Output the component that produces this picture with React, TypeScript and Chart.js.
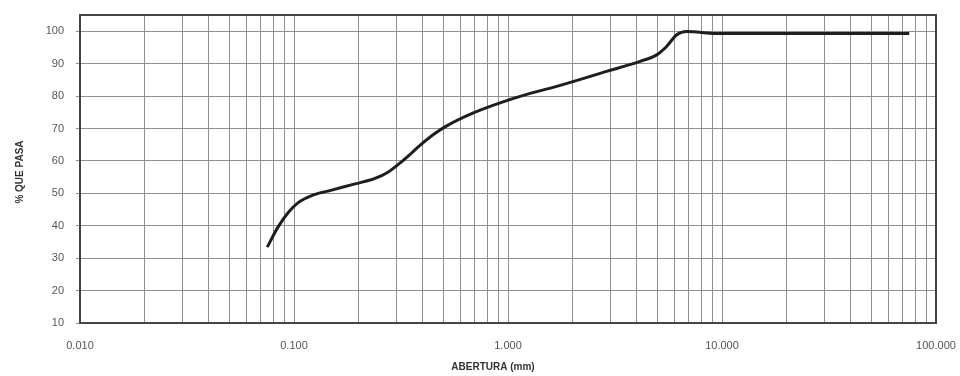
import React, { useEffect, useRef } from 'react';
import { Chart, registerables } from 'chart.js';
Chart.register(...registerables);

// Curve: aperture (mm) vs % passing
const aperturaMm = [0.075, 0.084, 0.094, 0.105, 0.121, 0.15, 0.193, 0.239, 0.276, 0.319, 0.355, 0.388, 0.45, 0.517, 0.689, 0.918, 1.18, 1.69, 2.89, 4.14, 4.95, 5.51, 6.14, 6.84, 9.45, 20, 40, 75];
const pctPasa = [33.4, 39.5, 44.1, 47.2, 49.3, 51.0, 52.9, 54.6, 56.6, 59.8, 62.5, 64.8, 68.2, 70.8, 74.8, 77.9, 80.2, 83.0, 87.6, 90.7, 92.7, 95.3, 98.9, 99.9, 99.3, 99.3, 99.3, 99.3];

const decades = [0.01, 0.1, 1, 10];
const lastDecade = 100;
const yTicks = [10, 20, 30, 40, 50, 60, 70, 80, 90, 100];
const xTitle = 'ABERTURA (mm)';
const yTitle = '% QUE PASA';

const FONT = "'Liberation Sans Narrow', 'Liberation Sans', Arial, sans-serif";

const frameAndTitles = {
  id: 'frameAndTitles',
  afterDraw(chart: any) {
    const { ctx, chartArea } = chart;
    ctx.save();
    ctx.strokeStyle = '#444';
    ctx.lineWidth = 2;
    ctx.strokeRect(chartArea.left, chartArea.top, chartArea.right - chartArea.left, chartArea.bottom - chartArea.top);
    ctx.fillStyle = '#333';
    ctx.font = `bold 10px ${FONT}`;
    ctx.textAlign = 'center';
    ctx.textBaseline = 'middle';
    ctx.fillText(xTitle, 493, 367);
    ctx.translate(20, 172);
    ctx.rotate(-Math.PI / 2);
    ctx.fillText(yTitle, 0, 0);
    ctx.restore();
  },
};

export default function App() {
  const ref = useRef<HTMLCanvasElement | null>(null);
  useEffect(() => {
    if (!ref.current) return;
    const xTickVals: number[] = [];
    decades.forEach((d) => {
      for (let k = 1; k <= 9; k++) xTickVals.push(+(d * k).toPrecision(6));
    });
    xTickVals.push(lastDecade);
    const isDecade = (v: number) => decades.concat([lastDecade]).some((d) => Math.abs(d - v) < 1e-9);

    const chart = new Chart(ref.current, {
      type: 'line',
      data: {
        datasets: [
          {
            data: aperturaMm.map((x, i) => ({ x, y: pctPasa[i] })),
            borderColor: '#1e1e1e',
            borderWidth: 3,
            pointRadius: 0,
            cubicInterpolationMode: 'monotone',
            fill: false,
          },
        ],
      },
      options: {
        animation: false,
        responsive: false,
        maintainAspectRatio: false,
        layout: { padding: { top: 15, right: 24, left: 0, bottom: 0 } },
        plugins: { legend: { display: false }, tooltip: { enabled: false } },
        scales: {
          x: {
            type: 'logarithmic',
            min: 0.01,
            max: 100,
            afterBuildTicks: (scale: any) => {
              scale.ticks = xTickVals.map((v) => ({ value: v }));
            },
            afterFit: (scale: any) => {
              scale.height = 53;
              scale.paddingLeft = 0;
              scale.paddingRight = 0;
            },
            grid: { color: '#8f8f8f', lineWidth: 1, drawTicks: false },
            border: { display: false },
            ticks: {
              autoSkip: false,
              maxRotation: 0,
              padding: 16,
              color: '#555',
              font: { family: FONT, size: 11 },
              callback: (v: any) => (isDecade(Number(v)) ? Number(v).toFixed(3) : ''),
            },
          },
          y: {
            min: 10,
            max: 105,
            afterBuildTicks: (scale: any) => {
              scale.ticks = yTicks.map((v) => ({ value: v }));
            },
            afterFit: (scale: any) => {
              scale.width = 80;
              scale.paddingTop = 0;
              scale.paddingBottom = 0;
            },
            grid: { color: '#8f8f8f', lineWidth: 1, tickLength: 4 },
            border: { display: false },
            ticks: {
              padding: 12,
              color: '#555',
              font: { family: FONT, size: 11 },
              callback: (v: any) => String(v),
            },
          },
        },
      },
      plugins: [frameAndTitles],
    } as any);
    return () => chart.destroy();
  }, []);

  return (
    <div style={{ position: 'fixed', left: 0, top: 0, width: 960, height: 376, background: '#fff' }}>
      <canvas ref={ref} width={960} height={376} style={{ width: 960, height: 376 }} />
    </div>
  );
}
